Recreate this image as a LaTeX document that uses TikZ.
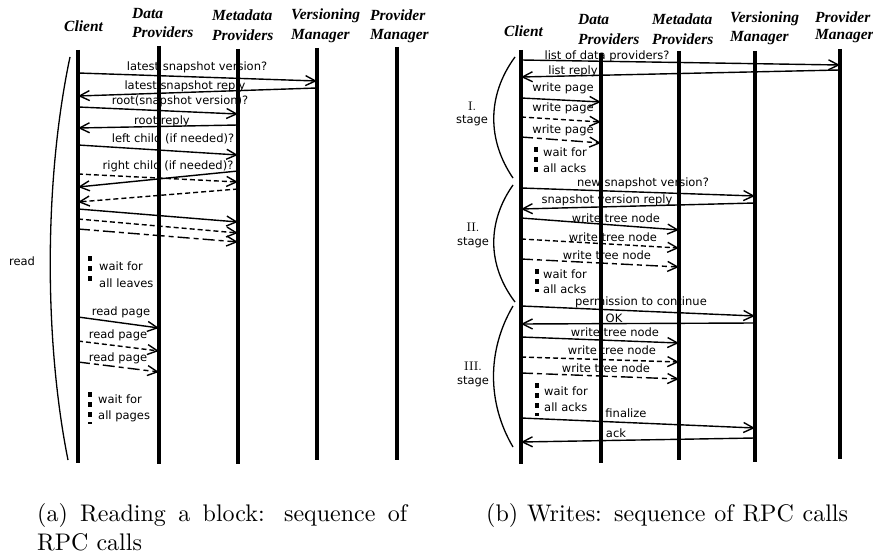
\documentclass[tikz,border=0pt]{standalone}
\usepackage{fontspec}
\newfontfamily\hdrfont{Liberation Serif}
\newfontfamily\msgfont{DejaVu Sans}
\usetikzlibrary{arrows.meta}
\begin{document}
\begin{tikzpicture}[x=1pt,y=-1pt,
 life/.style={line width=3.5pt},
 msg/.style={line width=1.4pt,-{Straight Barb[length=10pt,width=10pt,line width=1.4pt]}},
 dsh/.style={dash pattern=on 5pt off 3pt},
 dshdot/.style={dash pattern=on 12pt off 4pt on 5pt off 4pt},
 lbl/.style={font=\msgfont\fontsize{11.5}{13}\selectfont, inner sep=0pt, anchor=base},
 wlbl/.style={lbl, anchor=base west},
 hdr/.style={font=\hdrfont\bfseries\itshape\fontsize{15.5}{19}\selectfont, inner sep=0pt, anchor=base west},
 stg/.style={font=\fontsize{10}{12}\selectfont, inner sep=0pt, anchor=base},
 captxt/.style={font=\fontsize{10}{12}\selectfont, inner sep=0pt, anchor=base west},
 waitdots/.style={line width=3.5pt, dash pattern=on 5pt off 5pt},
 brc/.style={line width=1.3pt},
]
\useasboundingbox (0,0) rectangle (873,559);

% ---------------- left: reading ----------------
\node[hdr] (hcl) at (64,32) {Client};
\node[hdr] (hdp1) at (132,19) {Data};
\node[hdr] (hdp2) at (132,38) {Providers};
\node[hdr] (hmd1) at (212,21) {Metadata};
\node[hdr] (hmd2) at (212,41) {Providers};
\node[hdr] (hvm1) at (291,20) {Versioning};
\node[hdr] (hvm2) at (291,40) {Manager};
\node[hdr] (hpm1) at (370,21) {Provider};
\node[hdr] (hpm2) at (370,40) {Manager};

\coordinate (lcl) at (78,50);  \coordinate (lclb) at (78,463);
\coordinate (ldp) at (159,46); \coordinate (ldpb) at (159,464);
\coordinate (lmd) at (238,49); \coordinate (lmdb) at (238,464);
\coordinate (lvm) at (317,48); \coordinate (lvmb) at (317,460);
\coordinate (lpm) at (397,47); \coordinate (lpmb) at (397,460);
\draw[life] (lcl) -- (lclb);
\draw[life] (ldp) -- (ldpb);
\draw[life] (lmd) -- (lmdb);
\draw[life] (lvm) -- (lvmb);
\draw[life] (lpm) -- (lpmb);

\node[lbl] (a1) at (197,71) {latest snapshot version?};
\draw[msg] (lcl |- 0,73) -- (lvm |- 0,81);
\node[lbl] (a2) at (185,90) {latest snapshot reply};
\draw[msg] (lvm |- 0,88) -- (lcl |- 0,96);
\node[lbl] (a3) at (180,105) {root(snapshot version)?};
\draw[msg] (lcl |- 0,107) -- (lmd |- 0,114);
\node[lbl] (a4) at (162,125) {root reply};
\draw[msg] (lmd |- 0,125) -- (lcl |- 0,128);
\node[lbl] (a5) at (173,143) {left child (if needed)?};
\draw[msg] (lcl |- 0,145) -- (lmd |- 0,155);
\node[lbl] (a6) at (168,169) {right child (if needed)?};
\draw[msg,dsh] (lcl |- 0,174) -- (lmd |- 0,182);
\draw[msg] (lmd |- 0,171) -- (lcl |- 0,187);
\draw[msg,dsh] (lmd |- 0,189) -- (lcl |- 0,202);
\draw[msg] (lcl |- 0,209) -- (lmd |- 0,222);
\draw[msg,dsh] (lcl |- 0,219) -- (lmd |- 0,233);
\draw[msg,dshdot] (lcl |- 0,229) -- (lmd |- 0,242);

\coordinate (w1a) at (90,256); \coordinate (w1b) at (90,282);
\draw[waitdots] (w1a) -- (w1b);
\node[wlbl] (a7) at (99,270) {wait for};
\node[wlbl] (a8) at (99,287) {all leaves};

\node[lbl] (a9) at (121,315) {read page};
\draw[msg] (lcl |- 0,317) -- (ldp |- 0,328);
\node[lbl] (a10) at (118,338) {read page};
\draw[msg,dsh] (lcl |- 0,341) -- (ldp |- 0,351);
\node[lbl] (a11) at (118,361) {read page};
\draw[msg,dshdot] (lcl |- 0,362) -- (ldp |- 0,372);

\coordinate (w2a) at (90,392); \coordinate (w2b) at (90,424);
\draw[waitdots] (w2a) -- (w2b);
\node[wlbl] (a12) at (98,403) {wait for};
\node[wlbl] (a13) at (98,419) {all pages};

\coordinate (rb1) at (70,57); \coordinate (rb2) at (68,460);
\draw[brc] (rb1) .. controls (44,180) and (44,340) .. (rb2);
\node[lbl] (aread) at (22,265) {read};

\node[captxt] (capa1) at (37,521) {\scalebox{2.4}{\makebox[154.2pt][s]{(a) Reading a block: sequence of}}};
\node[captxt] (capa2) at (37,550) {\scalebox{2.4}{RPC calls}};

% ---------------- right: writes ----------------
\node[hdr] (Hcl) at (504,37) {Client};
\node[hdr] (Hdp1) at (578,25) {Data};
\node[hdr] (Hdp2) at (578,45) {Providers};
\node[hdr] (Hmd1) at (652,25) {Metadata};
\node[hdr] (Hmd2) at (652,45) {Providers};
\node[hdr] (Hvm1) at (730,23) {Versioning};
\node[hdr] (Hvm2) at (730,42) {Manager};
\node[hdr] (Hpm1) at (815,23) {Provider};
\node[hdr] (Hpm2) at (815,40) {Manager};

\coordinate (rcl) at (521,50); \coordinate (rclb) at (521,464);
\coordinate (rdp) at (601,53); \coordinate (rdpb) at (601,463);
\coordinate (rmd) at (679,51); \coordinate (rmdb) at (679,460);
\coordinate (rvm) at (755,51); \coordinate (rvmb) at (755,462);
\coordinate (rpm) at (840,49); \coordinate (rpmb) at (840,459);
\draw[life] (rcl) -- (rclb);
\draw[life] (rdp) -- (rdpb);
\draw[life] (rmd) -- (rmdb);
\draw[life] (rvm) -- (rvmb);
\draw[life] (rpm) -- (rpmb);

\node[lbl] (b1) at (607,60) {list of data providers?};
\draw[msg] (rcl |- 0,60) -- (rpm |- 0,65);
\node[lbl] (b2) at (573,75) {list reply};
\draw[msg] (rpm |- 0,70) -- (rcl |- 0,77);
\node[lbl] (b3) at (563,92) {write page};
\draw[msg] (rcl |- 0,98) -- (rdp |- 0,102);
\node[lbl] (b4) at (563,112) {write page};
\draw[msg,dsh] (rcl |- 0,117) -- (rdp |- 0,122);
\node[lbl] (b5) at (563,134) {write page};
\draw[msg,dshdot] (rcl |- 0,137) -- (rdp |- 0,143);

\coordinate (w3a) at (536,147); \coordinate (w3b) at (536,172);
\draw[waitdots] (w3a) -- (w3b);
\node[wlbl] (b6) at (543,157) {wait for};
\node[wlbl] (b7) at (543,172) {all acks};

\node[lbl] (b8) at (643,186) {new snapshot version?};
\draw[msg] (rcl |- 0,188) -- (rvm |- 0,196);
\node[lbl] (b9) at (607,203) {snapshot version reply};
\draw[msg] (rvm |- 0,203) -- (rcl |- 0,209);
\node[lbl] (b10) at (616,222) {write tree node};
\draw[msg] (rcl |- 0,218) -- (rmd |- 0,230);
\node[lbl] (b11) at (613,241) {write tree node};
\draw[msg,dsh] (rcl |- 0,239) -- (rmd |- 0,248);
\node[lbl] (b12) at (607,259) {write tree node};
\draw[msg,dshdot] (rcl |- 0,259) -- (rmd |- 0,267);

\coordinate (w4a) at (537,269); \coordinate (w4b) at (537,292);
\draw[waitdots] (w4a) -- (w4b);
\node[wlbl] (b13) at (543,278) {wait for};
\node[wlbl] (b14) at (543,293) {all acks};

\node[lbl] (b15) at (641,305) {permission to continue};
\draw[msg] (rcl |- 0,306) -- (rvm |- 0,316);
\node[lbl] (b16) at (614,322) {OK};
\draw[msg] (rvm |- 0,323) -- (rcl |- 0,324);
\node[lbl] (b17) at (615,336) {write tree node};
\draw[msg] (rcl |- 0,337) -- (rmd |- 0,343);
\node[lbl] (b18) at (612,354) {write tree node};
\draw[msg,dsh] (rcl |- 0,357) -- (rmd |- 0,362);
\node[lbl] (b19) at (606,372) {write tree node};
\draw[msg,dshdot] (rcl |- 0,373) -- (rmd |- 0,379);

\coordinate (w5a) at (537,383); \coordinate (w5b) at (537,416);
\draw[waitdots] (w5a) -- (w5b);
\node[wlbl] (b20) at (544,395) {wait for};
\node[wlbl] (b21) at (544,411) {all acks};

\node[lbl] (b22) at (626,417) {finalize};
\draw[msg] (rcl |- 0,418) -- (rvm |- 0,428);
\node[lbl] (b23) at (616,437) {ack};
\draw[msg] (rvm |- 0,438) -- (rcl |- 0,442);

% stage braces
\coordinate (s1a) at (515,57);  \coordinate (s1b) at (513,178);
\coordinate (s2a) at (513,185); \coordinate (s2b) at (515,302);
\coordinate (s3a) at (513,306); \coordinate (s3b) at (513,447);
\draw[brc] (s1a) .. controls (487,95) and (487,140) .. (s1b);
\draw[brc] (s2a) .. controls (487,222) and (487,265) .. (s2b);
\draw[brc] (s3a) .. controls (487,350) and (487,403) .. (s3b);
\node[stg] (st1) at (472,111) {\scalebox{1.25}{I.}};
\node[lbl] (st1b) at (472,124) {stage};
\node[stg] (st2) at (473,231) {\scalebox{1.25}{II.}};
\node[lbl] (st2b) at (473,245) {stage};
\node[stg] (st3) at (473,370) {\scalebox{1.25}{III.}};
\node[lbl] (st3b) at (473,384) {stage};

\node[captxt] (capb) at (486,521) {\scalebox{2.4}{\makebox[150.8pt][s]{(b) Writes: sequence of RPC calls}}};
\end{tikzpicture}
\end{document}
